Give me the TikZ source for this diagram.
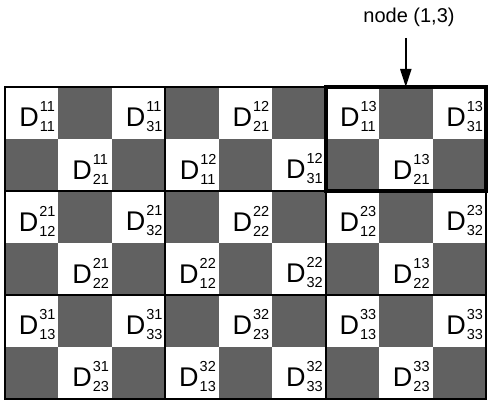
\documentclass[tikz,border=0pt]{standalone}
\usepackage{fontspec}
\setmainfont{Liberation Sans}
\usetikzlibrary{arrows.meta,fit}
\newcommand{\dlab}[2]{\hspace*{11pt}\rule{0pt}{33pt}{\fontsize{27}{27}\selectfont D}\kern1pt\rlap{\raisebox{15pt}{\fontsize{14.5}{14.5}\selectfont #1}}\raisebox{-5pt}{\fontsize{14.5}{14.5}\selectfont #2}}
\begin{document}
\begin{tikzpicture}[x=1pt,y=-1pt,
  cell/.style={minimum width=53.44pt,minimum height=52pt,inner sep=0pt,outer sep=0pt,anchor=center},
  darkcell/.style={cell,fill=black!62},
  lightcell/.style={cell},
  gridline/.style={line width=2pt},
  boxline/.style={draw,line width=4pt,inner sep=0pt,outer sep=0pt},
  pointer/.style={line width=2pt,-{Triangle[length=18pt,width=11pt]}}]
\useasboundingbox (0,0) rectangle (488,404);
% gray cells
\foreach \r in {1,...,6}{
  \foreach \c in {1,...,9}{
    \pgfmathtruncatemacro{\odd}{mod(\r+\c,2)}
    \ifnum\odd=1
      \node[darkcell] (c-\r-\c) at ({5+(\c-0.5)*53.44},{87+(\r-0.5)*52}) {};
    \fi
  }
}
% white cells with labels
\foreach \r/\c/\su/\sb in {
  1/1/11/11, 1/3/11/31, 1/5/12/21, 1/7/13/11, 1/9/13/31,
  2/2/11/21, 2/4/12/11, 2/6/12/31, 2/8/13/21,
  3/1/21/12, 3/3/21/32, 3/5/22/22, 3/7/23/12, 3/9/23/32,
  4/2/21/22, 4/4/22/12, 4/6/22/32, 4/8/13/22,
  5/1/31/13, 5/3/31/33, 5/5/32/23, 5/7/33/13, 5/9/33/33,
  6/2/31/23, 6/4/32/13, 6/6/32/33, 6/8/33/23}{
  \node[lightcell] (c-\r-\c) at ({5+(\c-0.5)*53.44},{87+(\r-0.5)*52}) {\dlab{\su}{\sb}};
}
% frame and block separators
\node[draw,gridline,inner sep=0pt,outer sep=0pt,fit=(c-1-1)(c-6-9)] (frame) {};
\draw[gridline] (c-3-1.north west) -- (c-3-9.north east);
\draw[gridline] (c-5-1.north west) -- (c-5-9.north east);
\draw[gridline] (c-1-4.north west) -- (c-6-4.south west);
\draw[gridline] (c-1-7.north west) -- (c-6-7.south west);
% highlighted node (1,3)
\node[boxline,fit=(c-1-7)(c-2-9)] (box) {};
\node (lbl) at (409,17) {\fontsize{20}{20}\selectfont node (1,3)};
\path (box.north) ++(0,-49) coordinate (atop);
\draw[pointer] (atop) -- (box.north);
\end{tikzpicture}
\end{document}
